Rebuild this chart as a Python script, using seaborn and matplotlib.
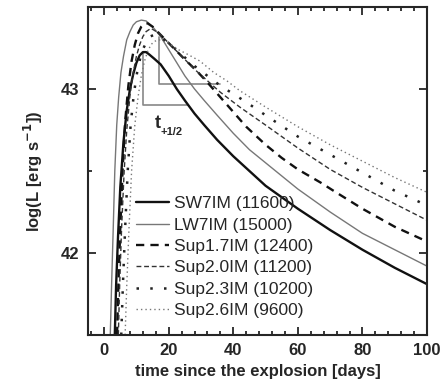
import numpy as np
import pandas as pd
import matplotlib
matplotlib.use("Agg")
import matplotlib.pyplot as plt
from matplotlib.ticker import MultipleLocator
import seaborn as sns

# ---- data ----
sw7_t = [3.3, 3.7, 4.3, 5.0, 6.0, 7.0, 8.0, 9.0, 10.0, 11.0, 12.0, 13.0, 14.0, 15.5, 17.5, 20, 22.5, 25, 28, 31, 35, 40, 45, 50, 55, 60, 70, 80, 90, 100]
sw7_L = [41.5, 41.8, 42.1, 42.4, 42.68, 42.87, 43.0, 43.09, 43.16, 43.205, 43.225, 43.225, 43.21, 43.185, 43.15, 43.08, 43.00, 42.93, 42.85, 42.78, 42.69, 42.59, 42.50, 42.41, 42.34, 42.27, 42.14, 42.02, 41.91, 41.81]

lw7_t = [1.9, 2.3, 2.8, 3.3, 3.9, 4.5, 5.2, 6.0, 7.0, 8.0, 9.0, 10.0, 11.5, 13, 15, 17.5, 20, 22.5, 25, 28, 31, 35, 40, 45, 50, 55, 60, 70, 80, 90, 100]
lw7_L = [41.5, 41.8, 42.14, 42.5, 42.78, 42.95, 43.10, 43.2, 43.30, 43.35, 43.39, 43.41, 43.42, 43.415, 43.38, 43.32, 43.24, 43.16, 43.08, 43.00, 42.93, 42.84, 42.73, 42.63, 42.55, 42.47, 42.39, 42.25, 42.12, 42.02, 41.92]

s17_t = [4.0, 4.4, 5.0, 5.7, 6.5, 7.5, 8.5, 9.5, 10.5, 11.5, 12.5, 13.5, 15, 17, 19.5, 22, 25, 28.7, 32, 36, 40, 44, 50, 55, 60, 67, 71, 80, 90, 100]
s17_L = [41.5, 41.8, 42.15, 42.5, 42.8, 43.02, 43.17, 43.27, 43.34, 43.38, 43.40, 43.40, 43.38, 43.34, 43.29, 43.24, 43.18, 43.11, 43.04, 42.95, 42.86, 42.77, 42.66, 42.58, 42.51, 42.43, 42.38, 42.27, 42.16, 42.07]

s20_t = [4.4, 4.8, 5.4, 6.2, 7.0, 8.0, 9.0, 10, 11, 12, 13, 14.5, 17, 20, 24, 28, 32, 36, 42, 50, 60, 70, 80, 90, 100]
s20_L = [41.5, 41.8, 42.15, 42.5, 42.75, 42.96, 43.1, 43.2, 43.27, 43.32, 43.35, 43.37, 43.34, 43.28, 43.20, 43.12, 43.05, 42.98, 42.89, 42.78, 42.64, 42.51, 42.40, 42.30, 42.20]

s23_t = [5.3, 5.8, 6.5, 7.3, 8.2, 9.2, 10.2, 11.2, 12.2, 13.2, 14.2, 15.5, 17, 20, 24, 28, 32, 36, 40, 44, 50, 60, 70, 80, 90, 100]
s23_L = [41.5, 41.8, 42.15, 42.5, 42.78, 42.97, 43.1, 43.19, 43.25, 43.29, 43.32, 43.33, 43.32, 43.28, 43.21, 43.14, 43.08, 43.02, 42.97, 42.92, 42.84, 42.71, 42.60, 42.49, 42.38, 42.29]

s26_t = [6.5, 7.0, 7.7, 8.5, 9.5, 10.5, 11.5, 12.5, 13.5, 14.5, 15.5, 17, 20, 23, 26, 29.7, 34, 38, 42, 50, 60, 70, 80, 90, 100]
s26_L = [41.5, 41.8, 42.15, 42.5, 42.78, 42.95, 43.08, 43.17, 43.23, 43.27, 43.29, 43.30, 43.28, 43.24, 43.21, 43.17, 43.10, 43.05, 42.99, 42.89, 42.77, 42.66, 42.56, 42.46, 42.37]

labels = ["SW7IM (11600)", "LW7IM (15000)", "Sup1.7IM (12400)",
          "Sup2.0IM (11200)", "Sup2.3IM (10200)", "Sup2.6IM (9600)"]

# half-time markers (t, logL)
half1_t = [11.9, 11.9, 26.1]
half1_L = [43.22, 42.90, 42.90]
half2_t = [17.0, 17.0, 36.0]
half2_L = [43.32, 43.03, 43.03]

xticks = [0, 20, 40, 60, 80, 100]
yticks = [42, 43]

# ---- plotting ----
sns.set_style("ticks")
plt.rcParams["font.family"] = ["Liberation Sans", "DejaVu Sans"]

fig = plt.figure(figsize=(4.48, 3.84), dpi=100)
ax = fig.add_axes([88/448, 1-335/384, (427-88)/448, (335-7)/384])

series = [(sw7_t, sw7_L), (lw7_t, lw7_L), (s17_t, s17_L),
          (s20_t, s20_L), (s23_t, s23_L), (s26_t, s26_L)]
styles = [
    dict(color="#111111", linewidth=1.7, dashes=None),
    dict(color="#777777", linewidth=1.0, dashes=None),
    dict(color="#111111", linewidth=1.7, dashes=(3.5, 2.6)),
    dict(color="#333333", linewidth=1.0, dashes=(3.5, 2.0)),
    dict(color="#222222", linewidth=1.8, dashes=(1.0, 4.5)),
    dict(color="#777777", linewidth=1.0, dashes=(1.0, 2.2)),
]

handles = []
for (t, L), lab, st in zip(series, labels, styles):
    df = pd.DataFrame({"t": t, "L": L})
    sns.lineplot(data=df, x="t", y="L", ax=ax, sort=False, estimator=None, label=lab,
                 color=st["color"], linewidth=st["linewidth"])
    line = ax.get_lines()[-1]
    if st["dashes"] is not None:
        line.set_dashes(st["dashes"])
    handles.append(line)

for tt, LL in [(half1_t, half1_L), (half2_t, half2_L)]:
    ax.plot(tt, LL, color="#888888", linewidth=1.2, zorder=1)

ax.text(15.6, 42.76, "t", fontsize=13, fontweight="bold", ha="left", va="baseline")
ax.text(17.6, 42.72, "+1/2", fontsize=8, fontweight="bold", ha="left", va="baseline")

ax.set_xlim(-5, 100)
ax.set_ylim(41.5, 43.5)
ax.set_xticks(xticks)
ax.set_yticks(yticks)
ax.xaxis.set_minor_locator(MultipleLocator(4))
ax.yaxis.set_minor_locator(MultipleLocator(0.5))
ax.tick_params(which="both", direction="in", top=True, right=True, width=1.3)
ax.tick_params(which="major", length=6, labelsize=12, pad=6)
ax.tick_params(which="minor", length=3)
for lab in ax.get_xticklabels() + ax.get_yticklabels():
    lab.set_fontweight("bold")
for s in ax.spines.values():
    s.set_linewidth(1.5)

ax.set_xlabel("time since the explosion [days]", fontsize=12, fontweight="bold", labelpad=4)
ax.set_ylabel(r"log(L [erg s$^{\mathbf{-1}}$])", fontsize=12, fontweight="bold", labelpad=12)

leg = ax.legend(handles=handles, labels=labels, loc="lower left", bbox_to_anchor=(0.12, 0.03),
                frameon=False, fontsize=12.5, handlelength=1.9, handletextpad=0.3,
                labelspacing=0.36, borderaxespad=0)

fig.savefig("out.png", dpi=100)
